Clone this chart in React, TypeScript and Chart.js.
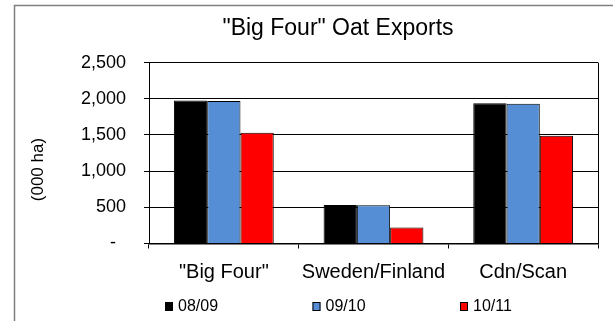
import React, { useEffect, useRef } from "react";
import { Chart, registerables } from "chart.js";

Chart.register(...registerables);

const categories = ['"Big Four"', "Sweden/Finland", "Cdn/Scan"];
const seriesLabels = ["08/09", "09/10", "10/11"];
const values0809 = [1975, 532, 1938];
const values0910 = [1970, 528, 1933];
const values1011 = [1530, 222, 1490];
const seriesColors = ["#000000", "#558ED5", "#FF0000"];
const yTicks = [0, 500, 1000, 1500, 2000, 2500];
const titleText = '"Big Four" Oat Exports';
const yTitle = "(000 ha)";

const FONT = "'Liberation Sans', Arial, sans-serif";

const framePlugin = {
  id: "framePlugin",
  afterDraw(chart: any) {
    const ctx = chart.ctx;
    const ca = chart.chartArea;
    ctx.save();
    // outer chart frame
    ctx.strokeStyle = "#808080";
    ctx.lineWidth = 1.5;
    ctx.strokeRect(14.5, 5.5, 648, 330);
    // plot area right border
    ctx.strokeStyle = "#000000";
    ctx.lineWidth = 1;
    ctx.beginPath();
    ctx.moveTo(Math.round(ca.right) + 0.5, ca.top);
    ctx.lineTo(Math.round(ca.right) + 0.5, ca.bottom);
    ctx.stroke();
    // legend
    const startX = 165;
    const step = 147.5;
    const cy = 307;
    ctx.font = `16px ${FONT}`;
    ctx.textBaseline = "middle";
    ctx.textAlign = "left";
    chart.data.datasets.forEach((ds: any, i: number) => {
      const x = startX + i * step;
      ctx.fillStyle = ds.backgroundColor;
      ctx.fillRect(x, cy - 5, 8, 9);
      ctx.strokeStyle = "#000000";
      ctx.lineWidth = 1;
      ctx.strokeRect(x + 0.5, cy - 4.5, 7, 8);
      ctx.fillStyle = "#000000";
      ctx.fillText(ds.label, x + 13, cy);
    });
    ctx.restore();
  },
};

export default function App() {
  const canvasRef = useRef<HTMLCanvasElement | null>(null);

  useEffect(() => {
    if (!canvasRef.current) return;
    const seriesValues = [values0809, values0910, values1011];
    const chart = new Chart(canvasRef.current, {
      type: "bar",
      data: {
        labels: categories,
        datasets: seriesLabels.map((label, i) => ({
          label,
          data: seriesValues[i],
          backgroundColor: seriesColors[i],
          borderColor: "#000000",
          borderWidth: 1,
          categoryPercentage: 0.667,
          barPercentage: 1,
        })),
      },
      options: {
        responsive: false,
        animation: false,
        devicePixelRatio: 1,
        layout: { padding: { left: 14, right: 18, top: 6, bottom: 40.5 } },
        plugins: {
          legend: { display: false },
          tooltip: { enabled: false },
          title: {
            display: true,
            text: titleText,
            color: "#000000",
            font: { family: FONT, size: 23, weight: "normal" },
            padding: { top: 9, bottom: 20 },
          },
        },
        scales: {
          x: {
            offset: true,
            grid: {
              display: true,
              offset: true,
              drawOnChartArea: false,
              drawTicks: true,
              tickLength: 5,
              color: "#000000",
            },
            border: { display: true, color: "#000000", width: 1.5 },
            ticks: {
              color: "#000000",
              padding: 12,
              maxRotation: 0,
              font: { family: FONT, size: 20 },
            },
            afterFit: (scale: any) => {
              scale.height = 56;
            },
          },
          y: {
            min: 0,
            max: 2500,
            afterBuildTicks: (scale: any) => {
              scale.ticks = yTicks.map((v) => ({ value: v }));
            },
            grid: {
              color: "#000000",
              lineWidth: 1,
              drawTicks: true,
              tickLength: 5,
            },
            border: { display: true, color: "#000000", width: 1 },
            ticks: {
              color: "#000000",
              padding: 18,
              font: { family: FONT, size: 18 },
              callback: (v: any) =>
                Number(v) === 0 ? "-  " : Number(v).toLocaleString("en-US"),
            },
            title: {
              display: true,
              text: yTitle + "\u00a0\u00a0\u00a0\u00a0\u00a0\u00a0\u00a0",
              color: "#000000",
              font: { family: FONT, size: 17 },
              padding: { top: 14, bottom: 0 },
            },
            afterFit: (scale: any) => {
              scale.width = 135;
            },
          },
          y2: {
            position: "right",
            display: true,
            grid: { display: false, drawTicks: false },
            border: { display: false },
            ticks: { display: false },
            afterFit: (scale: any) => {
              scale.width = 64;
            },
          },
        },
      },
      plugins: [framePlugin],
    });
    return () => chart.destroy();
  }, []);

  return (
    <div
      style={{
        position: "fixed",
        left: 0,
        top: 0,
        width: 613,
        height: 321,
        overflow: "hidden",
        background: "#ffffff",
      }}
    >
      <canvas ref={canvasRef} width={680} height={340} style={{ display: "block" }} />
    </div>
  );
}
